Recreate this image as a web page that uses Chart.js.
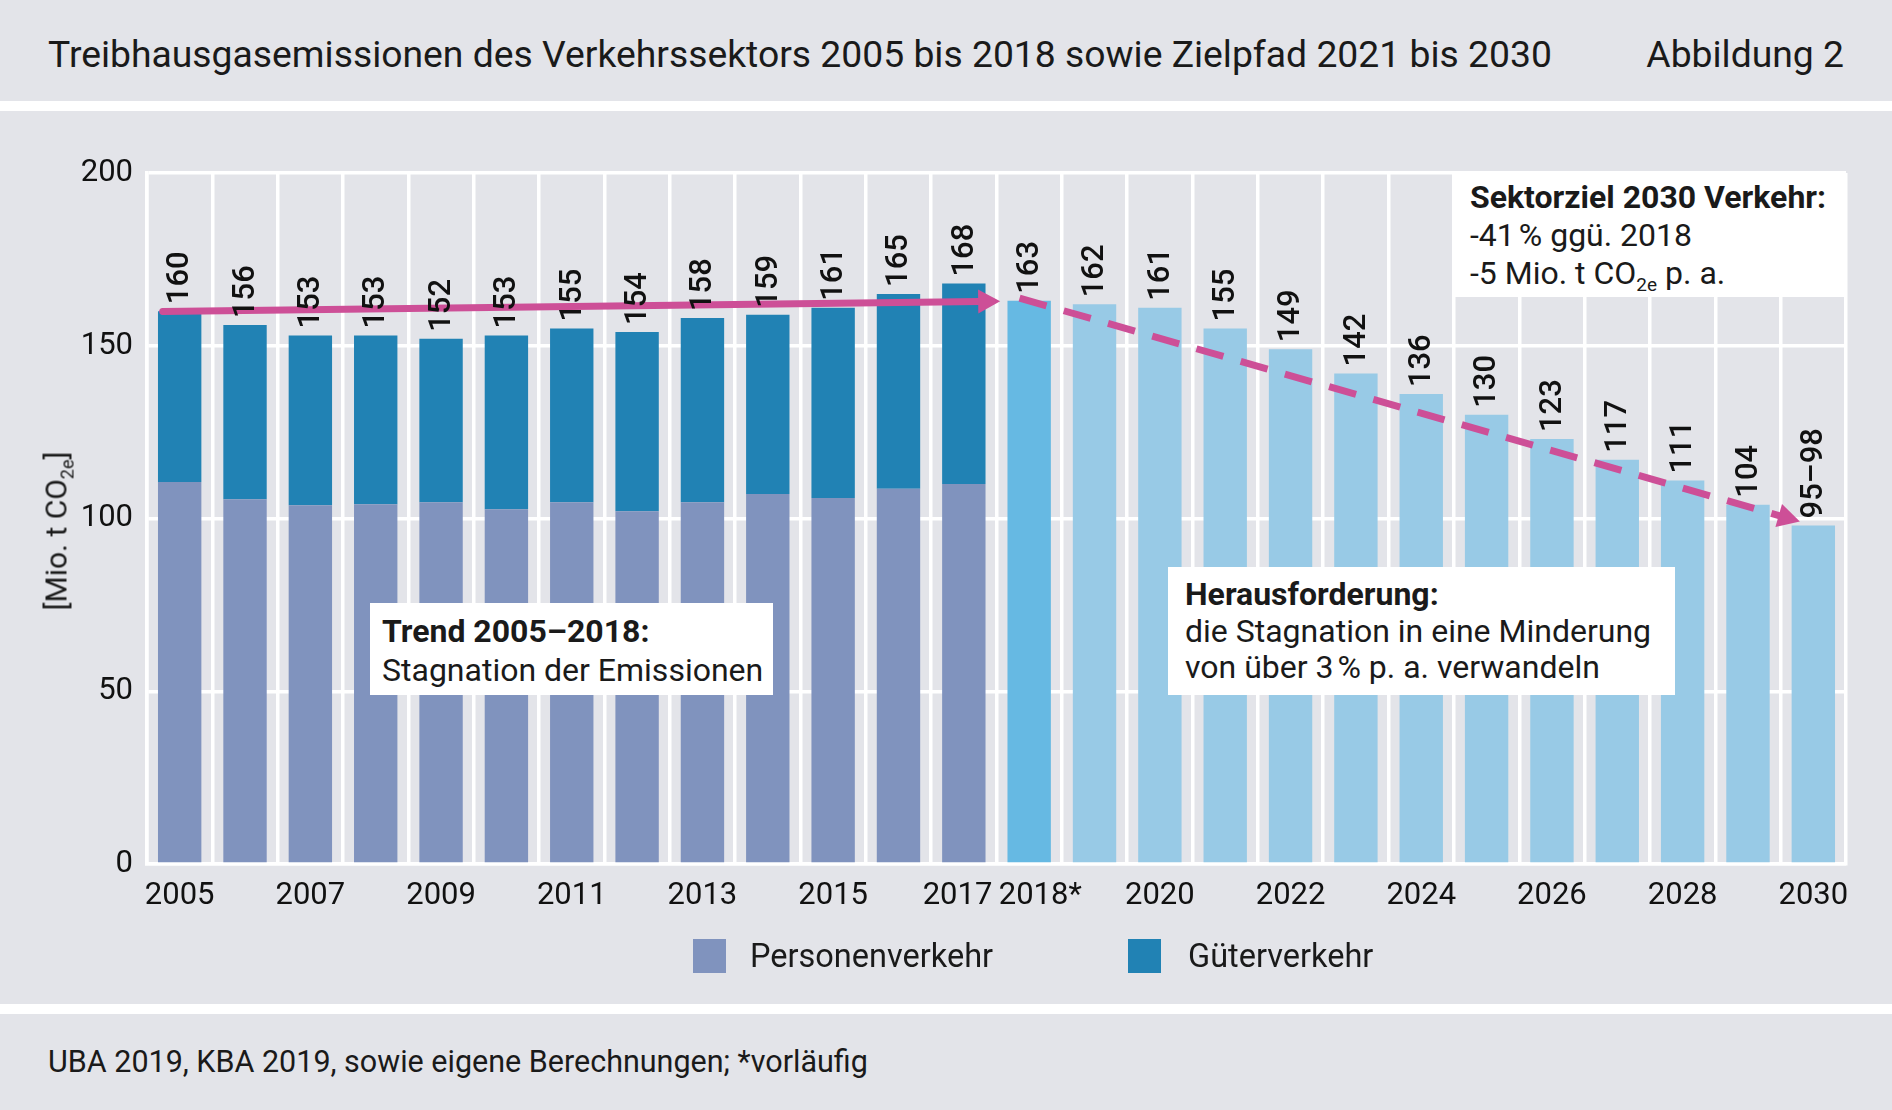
<!DOCTYPE html>
<html lang="de">
<head>
<meta charset="utf-8">
<title>Treibhausgasemissionen des Verkehrssektors</title>
<script src="https://cdn.jsdelivr.net/npm/chart.js@4"></script>
<style>
  html, body { margin: 0; padding: 0; background: #fff; }
  body { width: 1892px; height: 1110px; position: relative; overflow: hidden; font-family: Roboto, "Noto Sans", sans-serif; color: #1a1a1a; }
  .band { position: absolute; left: 0; width: 1892px; background: #e3e4e9; }
  #head { top: 0; height: 101px; }
  #panel { top: 111px; height: 893px; }
  #foot { top: 1014px; height: 96px; }
  #title { position: absolute; left: 48px; top: 34px; font-size: 37.3px; line-height: 40px; white-space: nowrap; }
  #fig { position: absolute; right: 48px; top: 34px; font-size: 37.3px; line-height: 40px; }
  #source { position: absolute; left: 48px; top: 31px; font-size: 30.5px; line-height: 34px; white-space: nowrap; }
  #chartBox { position: absolute; left: 0; top: 0; width: 1892px; height: 893px; }
  #yTitle { position: absolute; left: 58px; top: 420px; font-size: 30px; white-space: nowrap; transform: translate(-50%, -50%) rotate(-90deg); }
  #yTitle sub { font-size: 18px; }
  .note { position: absolute; background: #fff; box-sizing: border-box; font-size: 32px; white-space: nowrap; }
  .note b { font-weight: 700; }
  .note sub { font-size: 19px; line-height: 0; }
  #legend { position: absolute; top: 828px; left: 0; width: 1892px; height: 34px; font-size: 32.5px; }
  .swatch { position: absolute; top: 0; width: 33px; height: 34px; }
  .legLabel { position: absolute; top: 0; line-height: 34px; }
</style>
</head>
<body>
<div id="head" class="band">
  <div id="title">Treibhausgasemissionen des Verkehrssektors 2005 bis 2018 sowie Zielpfad 2021 bis 2030</div>
  <div id="fig">Abbildung 2</div>
</div>
<div id="panel" class="band">
  <div id="chartBox"><canvas id="chart"></canvas></div>
  <div id="yTitle">[Mio. t CO<sub>2e</sub>]</div>
  <div class="note" style="left:1454px; top:62px; width:392px; height:124px; padding:5px 0 0 16px; line-height:38px;">
    <b>Sektorziel 2030 Verkehr:</b><br>-41&#8239;% ggü. 2018<br>-5 Mio. t CO<sub>2e</sub> p. a.
  </div>
  <div class="note" style="left:370px; top:492px; width:403px; height:92px; padding:9px 0 0 12px; line-height:38.5px;">
    <b>Trend 2005–2018:</b><br>Stagnation der Emissionen
  </div>
  <div class="note" style="left:1168px; top:456px; width:507px; height:128px; padding:9px 0 0 17px; line-height:36.5px;">
    <b>Herausforderung:</b><br>die Stagnation in eine Minderung<br>von über 3&#8239;% p. a. verwandeln
  </div>
  <div id="legend">
    <div class="swatch" style="left:693px; background:#8093be;"></div>
    <div class="legLabel" style="left:750px;">Personenverkehr</div>
    <div class="swatch" style="left:1128px; background:#2182b4;"></div>
    <div class="legLabel" style="left:1188px;">Güterverkehr</div>
  </div>
</div>
<div id="foot" class="band">
  <div id="source">UBA 2019, KBA 2019, sowie eigene Berechnungen; *vorläufig</div>
</div>

<script>
// categories
var years = ['2005', '2006', '2007', '2008', '2009', '2010', '2011', '2012', '2013', '2014', '2015', '2016', '2017',
             '2018*', '2019', '2020', '2021', '2022', '2023', '2024', '2025', '2026', '2027', '2028', '2029', '2030'];
// x labels that are printed under the axis
var shownYears = ['2005', '2007', '2009', '2011', '2013', '2015', '2017', '2018*', '2020', '2022', '2024', '2026', '2028', '2030'];

// Mio. t CO2e
var personenverkehr = [110.6, 105.6, 103.8, 104.1, 104.7, 102.7, 104.7, 102.1, 104.7, 107.1, 105.9, 108.6, 110.0,
                       null, null, null, null, null, null, null, null, null, null, null, null, null];
var gueterverkehr = [49.4, 50.4, 49.2, 48.9, 47.3, 50.3, 50.3, 51.9, 53.3, 51.9, 55.1, 56.4, 58.0,
                     null, null, null, null, null, null, null, null, null, null, null, null, null];
var vorlaeufig = [null, null, null, null, null, null, null, null, null, null, null, null, null,
                  163, null, null, null, null, null, null, null, null, null, null, null, null];
var zielpfad = [null, null, null, null, null, null, null, null, null, null, null, null, null,
                null, 162, 161, 155, 149, 142, 136, 130, 123, 117, 111, 104, 98];
var totalLabels = ['160', '156', '153', '153', '152', '153', '155', '154', '158', '159', '161', '165', '168',
                   '163', '162', '161', '155', '149', '142', '136', '130', '123', '117', '111', '104', '95–98'];

// trend arrow (solid) and target path (dashed)
var trendFrom = '2005', trendTo = '2018*', trendValues = [160, 163];
var targetFrom = '2018*', targetTo = '2030', targetValues = [163, 98];

var pink = '#cd4f97';

function stackTop(i) {
    var sum = 0;
    [personenverkehr, gueterverkehr, vorlaeufig, zielpfad].forEach(function (arr) {
        if (arr[i] != null) sum += arr[i];
    });
    return sum;
}

function drawArrow(ctx, x0, y0, x1, y1, startOff, endOff, dashed) {
    var dx = x1 - x0, dy = y1 - y0;
    var len = Math.sqrt(dx * dx + dy * dy);
    var ux = dx / len, uy = dy / len;
    var sx = x0 + ux * startOff, sy = y0 + uy * startOff;
    var tx = x1 + ux * endOff, ty = y1 + uy * endOff;
    var head = 22, half = 12;
    var bx = tx - ux * head, by = ty - uy * head;

    ctx.save();
    ctx.strokeStyle = pink;
    ctx.fillStyle = pink;
    ctx.lineWidth = 7;
    ctx.lineCap = dashed ? 'butt' : 'round';
    if (dashed) ctx.setLineDash([28, 18]);
    ctx.beginPath();
    ctx.moveTo(sx, sy);
    ctx.lineTo(bx + ux * 2, by + uy * 2);
    ctx.stroke();
    ctx.setLineDash([]);
    ctx.beginPath();
    ctx.moveTo(tx, ty);
    ctx.lineTo(bx - uy * half, by + ux * half);
    ctx.lineTo(bx + uy * half, by - ux * half);
    ctx.closePath();
    ctx.fill();
    ctx.restore();
}

var overlay = {
    id: 'overlay',
    afterDatasetsDraw: function (chart) {
        var ctx = chart.ctx;
        var x = chart.scales.x, y = chart.scales.y;

        drawArrow(ctx,
            x.getPixelForValue(years.indexOf(trendFrom)), y.getPixelForValue(trendValues[0]),
            x.getPixelForValue(years.indexOf(trendTo)), y.getPixelForValue(trendValues[1]),
            -17, -29, false);
        drawArrow(ctx,
            x.getPixelForValue(years.indexOf(targetFrom)), y.getPixelForValue(targetValues[0]),
            x.getPixelForValue(years.indexOf(targetTo)), y.getPixelForValue(targetValues[1]),
            -10, -14, true);

        // value labels, rotated
        ctx.save();
        ctx.fillStyle = '#111';
        ctx.font = '500 31px Roboto, "Noto Sans", sans-serif';
        ctx.textAlign = 'left';
        ctx.textBaseline = 'middle';
        years.forEach(function (yr, i) {
            var px = x.getPixelForValue(i);
            var py = y.getPixelForValue(stackTop(i)) - 7;
            ctx.save();
            ctx.translate(px, py);
            ctx.rotate(-Math.PI / 2);
            ctx.fillText(totalLabels[i], 0, 1);
            ctx.restore();
        });
        ctx.restore();
    }
};

var barOpts = { categoryPercentage: 1.0, barPercentage: 0.664, borderWidth: 0, stack: 'all' };

var chart = new Chart(document.getElementById('chart').getContext('2d'), {
    type: 'bar',
    data: {
        labels: years,
        datasets: [
            Object.assign({ label: 'Personenverkehr', data: personenverkehr, backgroundColor: '#8093be' }, barOpts),
            Object.assign({ label: 'Güterverkehr', data: gueterverkehr, backgroundColor: '#2182b4' }, barOpts),
            Object.assign({ label: '2018 (vorläufig)', data: vorlaeufig, backgroundColor: '#66b9e3' }, barOpts),
            Object.assign({ label: 'Zielpfad', data: zielpfad, backgroundColor: '#98cae6' }, barOpts)
        ]
    },
    options: {
        responsive: true,
        maintainAspectRatio: false,
        animation: false,
        layout: { padding: { left: 0, top: 62, right: 46, bottom: 0 } },
        plugins: {
            legend: { display: false },
            tooltip: { enabled: false }
        },
        scales: {
            x: {
                stacked: true,
                grid: { color: '#ffffff', lineWidth: 3.5, drawTicks: false, offset: true },
                border: { color: '#ffffff', width: 3.5 },
                ticks: {
                    autoSkip: false,
                    maxRotation: 0,
                    padding: 14,
                    color: '#111',
                    font: { size: 31, family: 'Roboto' },
                    callback: function (val) {
                        var lbl = years[val];
                        if (shownYears.indexOf(lbl) < 0) return '';
                        // keep 2017 and 2018* apart, the asterisk hangs to the right
                        if (lbl === '2018*') return '\u2002\u2009' + lbl;
                        if (lbl === '2017') return lbl + '\u2009\u2009';
                        return lbl;
                    }
                },
                afterFit: function (scale) { scale.height = 140; }
            },
            y: {
                stacked: true,
                min: 0,
                max: 200,
                grid: { color: '#ffffff', lineWidth: 3.5, drawTicks: false },
                border: { color: '#ffffff', width: 3.5 },
                ticks: {
                    stepSize: 50,
                    padding: 14,
                    color: '#111',
                    font: { size: 31, family: 'Roboto' }
                },
                afterFit: function (scale) { scale.width = 147; }
            }
        }
    },
    plugins: [overlay]
});
</script>
</body>
</html>
